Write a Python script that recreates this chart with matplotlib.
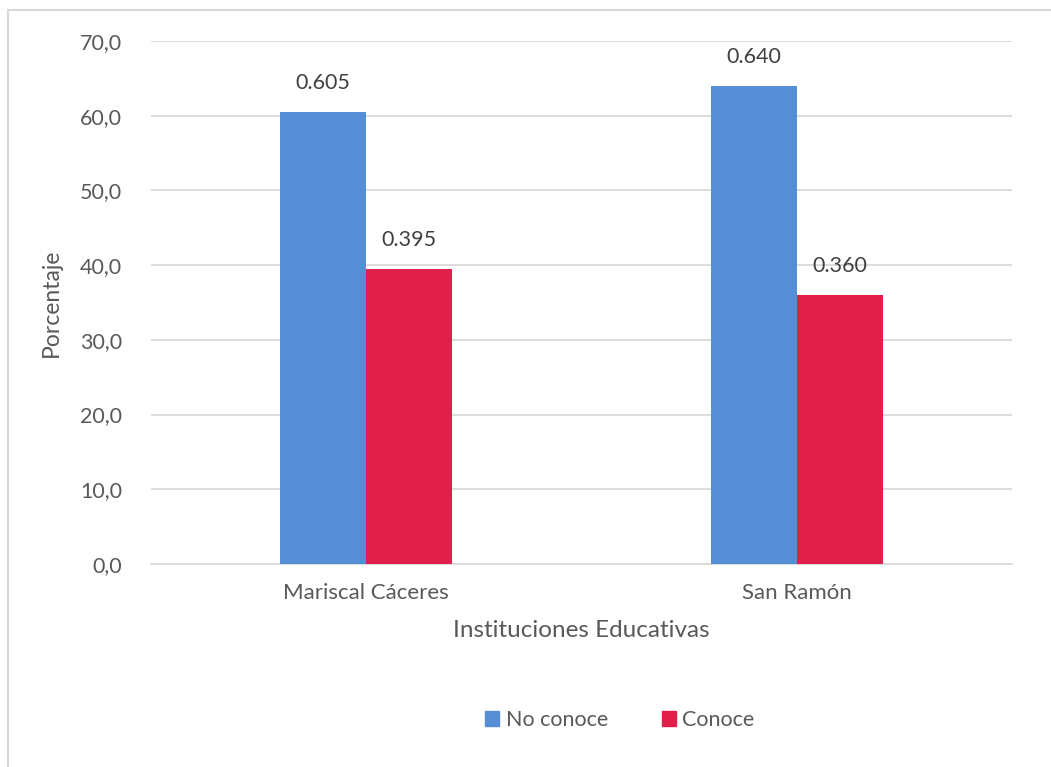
import matplotlib.pyplot as plt
import numpy as np
from matplotlib.lines import Line2D
from matplotlib.patches import Patch
from matplotlib.ticker import FuncFormatter, MultipleLocator

plt.rcParams['font.family'] = ['Lato', 'DejaVu Sans']

# data
instituciones = ['Mariscal Cáceres', 'San Ramón']
no_conoce = [60.5, 64.0]
conoce = [39.5, 36.0]
etiquetas_no = ['0.605', '0.640']
etiquetas_si = ['0.395', '0.360']

azul = '#558ed5'
rojo = '#e01f4b'
gris = '#595959'

W, H = 1051, 767
fig = plt.figure(figsize=(W / 100, H / 100), dpi=100)
ax = fig.add_axes([151 / W, 1 - 564 / H, 861 / W, 523 / H])

x = np.arange(len(instituciones))
bw = 0.2
b1 = ax.bar(x - bw / 2, no_conoce, bw, color=azul, label='No conoce', zorder=3)
b2 = ax.bar(x + bw / 2, conoce, bw, color=rojo, label='Conoce', zorder=3)

for bars, labels in [(b1, etiquetas_no), (b2, etiquetas_si)]:
    for rect, lab in zip(bars, labels):
        ax.annotate(lab, (rect.get_x() + rect.get_width() / 2, rect.get_height()),
                    xytext=(0, 21), textcoords='offset points', ha='center', va='center',
                    fontsize=15.5, color='#404040')

ax.set_xlim(-0.5, 1.5)
ax.set_ylim(0, 70)
ax.yaxis.set_major_locator(MultipleLocator(10))
ax.yaxis.set_major_formatter(FuncFormatter(lambda v, p: f'{v:.1f}'.replace('.', ',')))
ax.grid(axis='y', color='#d9d9d9', linewidth=1.3, zorder=0)
for s in ['top', 'right', 'left']:
    ax.spines[s].set_visible(False)
ax.spines['bottom'].set_color('#d9d9d9')
ax.spines['bottom'].set_linewidth(1.3)
ax.set_xticks(x)
ax.set_xticklabels(instituciones, fontsize=16)
ax.tick_params(axis='both', length=0, labelcolor=gris)
ax.tick_params(axis='y', pad=21, labelsize=15.5)
ax.tick_params(axis='x', pad=14)

ax.set_ylabel('Porcentaje', fontsize=16.5, color=gris, labelpad=13)
ax.set_xlabel('Instituciones Educativas', fontsize=17.5, color=gris, labelpad=12)

handles = [Patch(color=azul, label='No conoce'), Patch(color=rojo, label='Conoce')]
fig.legend(handles=handles, loc='center', bbox_to_anchor=(620 / W, 1 - 720 / H), ncol=2,
           frameon=False, fontsize=15.5, labelcolor=gris, handlelength=0.65, handleheight=0.65,
           handletextpad=0.3, columnspacing=2.5)

# chart border (only top and left visible)
fig.add_artist(Line2D([8 / W, 8 / W], [0, 1 - 10 / H], transform=fig.transFigure,
                      color='#d9d9d9', linewidth=1.5))
fig.add_artist(Line2D([8 / W, 1], [1 - 10 / H, 1 - 10 / H], transform=fig.transFigure,
                      color='#d9d9d9', linewidth=1.5))

fig.savefig('out.png', dpi=100)
